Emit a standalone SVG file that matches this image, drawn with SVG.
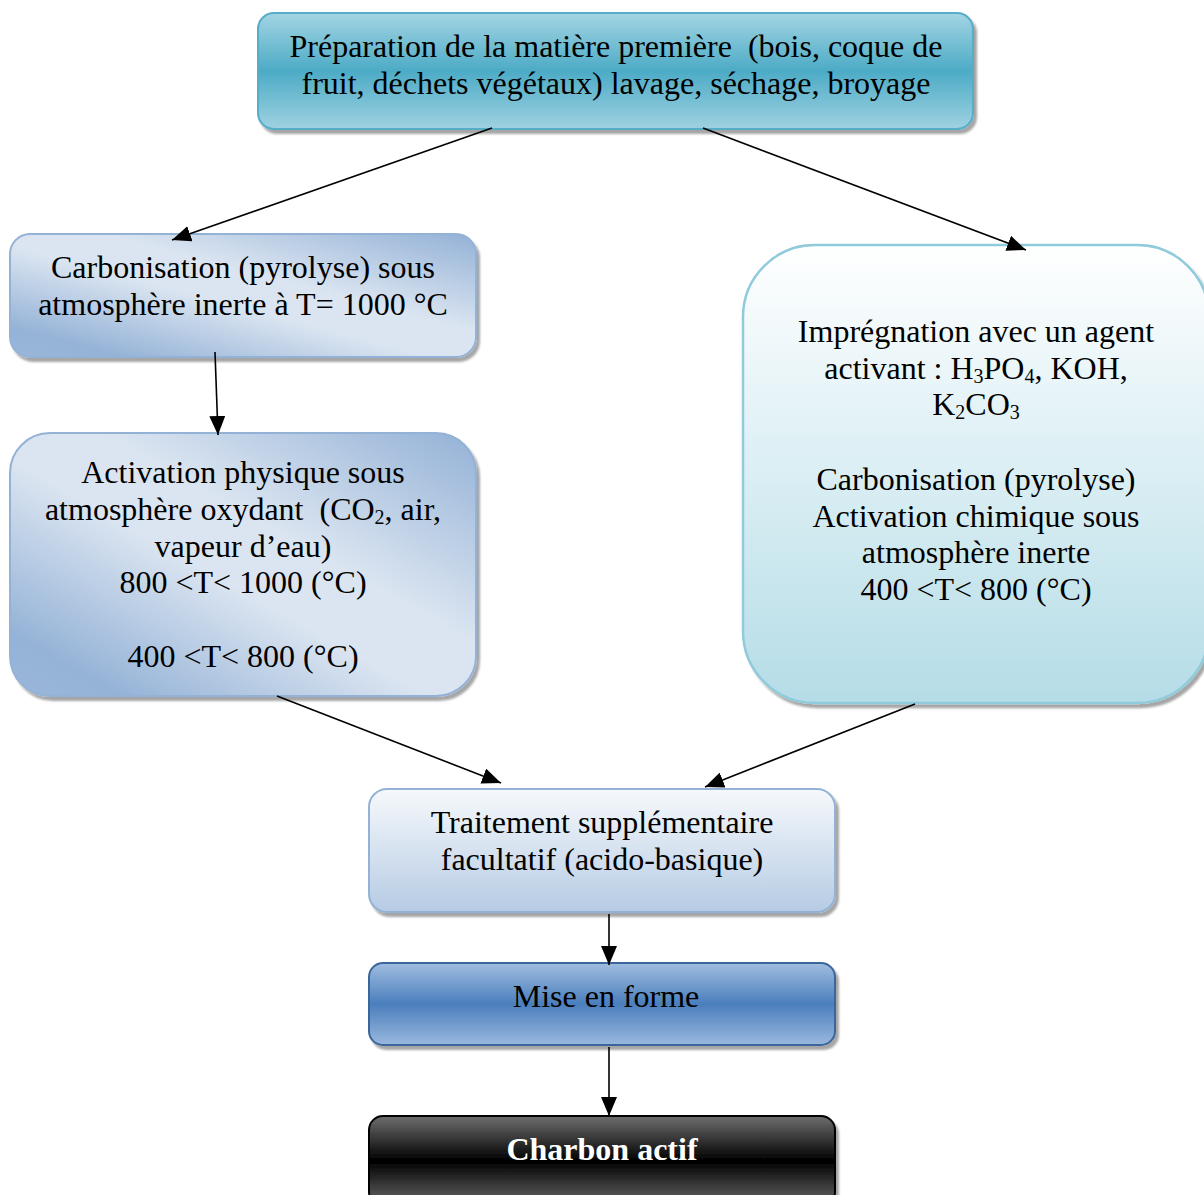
<svg xmlns="http://www.w3.org/2000/svg" width="1204" height="1195" viewBox="0 0 1204 1195">
<defs>
<style>
.t{font-family:"Liberation Serif","Times New Roman",serif;font-size:32px;fill:#000;text-anchor:middle}
.b{font-weight:bold;fill:#fff}
.sub{font-size:20px}
.conn line{stroke:#000;stroke-width:1.6;marker-end:url(#ah)}
</style>
<marker id="ah" markerUnits="userSpaceOnUse" markerWidth="20" markerHeight="16" refX="19" refY="8" orient="auto">
<path d="M0,0 L19,8 L0,16 z" fill="#000"/>
</marker>
<filter id="sh" x="-5%" y="-5%" width="115%" height="120%">
<feDropShadow dx="3" dy="4" stdDeviation="1.2" flood-color="#000" flood-opacity="0.35"/>
</filter>
<linearGradient id="gTop" x1="0" y1="0" x2="0" y2="1">
<stop offset="0" stop-color="#a3d5e3"/>
<stop offset="0.5" stop-color="#4cabc6"/>
<stop offset="1" stop-color="#9fd2e1"/>
</linearGradient>
<linearGradient id="gDiag" x1="0" y1="1" x2="1" y2="0">
<stop offset="0" stop-color="#9ab7da"/>
<stop offset="0.12" stop-color="#95b3d7"/>
<stop offset="0.45" stop-color="#dbe5f1"/>
<stop offset="0.6" stop-color="#dbe5f1"/>
<stop offset="1" stop-color="#93b1d6"/>
</linearGradient>
<linearGradient id="gRight" x1="0" y1="0" x2="0" y2="1">
<stop offset="0" stop-color="#ffffff"/>
<stop offset="0.6" stop-color="#d3ebf1"/>
<stop offset="1" stop-color="#b5dce7"/>
</linearGradient>
<linearGradient id="gTrait" x1="0" y1="0" x2="0" y2="1">
<stop offset="0" stop-color="#f6f9fc"/>
<stop offset="1" stop-color="#b6cbe4"/>
</linearGradient>
<linearGradient id="gMise" x1="0" y1="0" x2="0" y2="1">
<stop offset="0" stop-color="#a0bce0"/>
<stop offset="0.5" stop-color="#4b7fbd"/>
<stop offset="1" stop-color="#9ab8de"/>
</linearGradient>
<linearGradient id="gBlack" x1="0" y1="0" x2="0" y2="1">
<stop offset="0" stop-color="#6e6e6e"/>
<stop offset="0.5" stop-color="#000000"/>
<stop offset="1" stop-color="#6a6a6a"/>
</linearGradient>
</defs>
<rect width="1204" height="1195" fill="#fff"/>

<g id="n-preparation">
<rect x="258" y="13" width="715" height="116" rx="16" fill="url(#gTop)" stroke="#55adc6" stroke-width="2" filter="url(#sh)"/>
<text class="t" x="616" y="57" xml:space="preserve">Préparation de la matière première  (bois, coque de</text>
<text class="t" x="616" y="94">fruit, déchets végétaux) lavage, séchage, broyage</text>
</g>

<g id="n-carbonisation">
<rect x="10" y="234" width="466" height="123" rx="20" fill="url(#gDiag)" stroke="#94b2d6" stroke-width="2" filter="url(#sh)"/>
<text class="t" x="243" y="278">Carbonisation (pyrolyse) sous</text>
<text class="t" x="243" y="315">atmosphère inerte à T= 1000 °C</text>
</g>

<g id="n-activation-physique">
<rect x="10" y="433" width="466" height="263" rx="40" fill="url(#gDiag)" stroke="#94b2d6" stroke-width="2" filter="url(#sh)"/>
<text class="t" x="243" y="483">Activation physique sous</text>
<text class="t" x="243" y="520" xml:space="preserve">atmosphère oxydant  (CO<tspan class="sub" dy="4">2</tspan><tspan dy="-4">, air,</tspan></text>
<text class="t" x="243" y="557">vapeur d’eau)</text>
<text class="t" x="243" y="593">800 &lt;T&lt; 1000 (°C)</text>
<text class="t" x="243" y="667">400 &lt;T&lt; 800 (°C)</text>
</g>

<g id="n-impregnation">
<rect x="743" y="245" width="466" height="458" rx="72" fill="url(#gRight)" stroke="#8fcbdb" stroke-width="2.5" filter="url(#sh)"/>
<text class="t" x="976" y="342">Imprégnation avec un agent</text>
<text class="t" x="976" y="379">activant : H<tspan class="sub" dy="4">3</tspan><tspan dy="-4">PO</tspan><tspan class="sub" dy="4">4</tspan><tspan dy="-4">, KOH,</tspan></text>
<text class="t" x="976" y="415">K<tspan class="sub" dy="4">2</tspan><tspan dy="-4">CO</tspan><tspan class="sub" dy="4">3</tspan></text>
<text class="t" x="976" y="490">Carbonisation (pyrolyse)</text>
<text class="t" x="976" y="527">Activation chimique sous</text>
<text class="t" x="976" y="563">atmosphère inerte</text>
<text class="t" x="976" y="600">400 &lt;T&lt; 800 (°C)</text>
</g>

<g id="n-traitement">
<rect x="369" y="789" width="466" height="123" rx="18" fill="url(#gTrait)" stroke="#94b2d6" stroke-width="2" filter="url(#sh)"/>
<text class="t" x="602" y="833">Traitement supplémentaire</text>
<text class="t" x="602" y="870">facultatif (acido-basique)</text>
</g>

<g id="n-mise-en-forme">
<rect x="369" y="963" width="466" height="82" rx="14" fill="url(#gMise)" stroke="#3b669c" stroke-width="2" filter="url(#sh)"/>
<text class="t" x="606" y="1007">Mise en forme</text>
</g>

<g id="n-charbon">
<rect x="369" y="1116" width="466" height="90" rx="14" fill="url(#gBlack)" stroke="#000" stroke-width="2" filter="url(#sh)"/>
<text class="t b" x="602" y="1160">Charbon actif</text>
</g>

<g id="conn" class="conn">
<line x1="492" y1="128" x2="172" y2="240"/>
<line x1="703" y1="128" x2="1026" y2="250"/>
<line x1="215" y1="352" x2="218" y2="435"/>
<line x1="277" y1="696" x2="501" y2="783"/>
<line x1="915" y1="704" x2="705" y2="787"/>
<line x1="609" y1="914" x2="609" y2="965"/>
<line x1="609" y1="1047" x2="609" y2="1116"/>
</g>
</svg>
